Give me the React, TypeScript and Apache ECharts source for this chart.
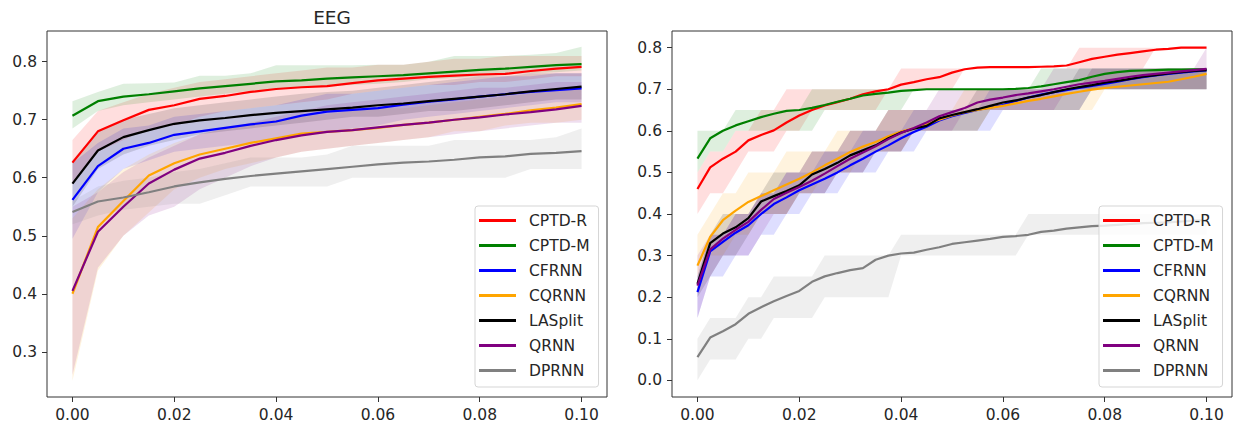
import React, { useEffect, useRef } from "react";
import * as echarts from "echarts";

// ---------- legend / series names ----------
const NAMES = ["CPTD-R", "CPTD-M", "CFRNN", "CQRNN", "LASplit", "QRNN", "DPRNN"];
const COLORS = ["#ff0000", "#008000", "#0000ff", "#ffa500", "#000000", "#800080", "#808080"];

// ---------- tick labels ----------
const X_TICKS = [0, 0.02, 0.04, 0.06, 0.08, 0.1];
const Y_TICKS_L = [0.3, 0.4, 0.5, 0.6, 0.7, 0.8];
const Y_TICKS_R = [0, 0.1, 0.2, 0.3, 0.4, 0.5, 0.6, 0.7, 0.8];

// ---------- left panel (EEG) ----------
const LX = [0, 0.005, 0.01, 0.015, 0.02, 0.025, 0.03, 0.035, 0.04, 0.045, 0.05, 0.055, 0.06, 0.065, 0.07, 0.075, 0.08, 0.085, 0.09, 0.095, 0.1];

const L_CPTDR = [0.626, 0.68, 0.699, 0.717, 0.725, 0.736, 0.741, 0.748, 0.753, 0.756, 0.758, 0.763, 0.768, 0.771, 0.774, 0.776, 0.778, 0.779, 0.784, 0.788, 0.791];
const L_CPTDR_LO = [0.59, 0.645, 0.665, 0.685, 0.69, 0.705, 0.715, 0.72, 0.725, 0.73, 0.735, 0.745, 0.75, 0.755, 0.76, 0.76, 0.765, 0.765, 0.77, 0.775, 0.775];
const L_CPTDR_HI = [0.665, 0.715, 0.73, 0.745, 0.755, 0.765, 0.77, 0.775, 0.78, 0.785, 0.79, 0.79, 0.795, 0.795, 0.8, 0.805, 0.805, 0.81, 0.81, 0.81, 0.81];

const L_CPTDM = [0.707, 0.732, 0.74, 0.744, 0.749, 0.754, 0.758, 0.762, 0.766, 0.768, 0.771, 0.773, 0.775, 0.777, 0.78, 0.783, 0.786, 0.788, 0.791, 0.794, 0.796];
const L_CPTDM_LO = [0.685, 0.715, 0.725, 0.73, 0.735, 0.74, 0.745, 0.75, 0.752, 0.755, 0.758, 0.76, 0.762, 0.765, 0.77, 0.772, 0.775, 0.778, 0.78, 0.782, 0.785];
const L_CPTDM_HI = [0.732, 0.748, 0.762, 0.763, 0.764, 0.776, 0.776, 0.78, 0.794, 0.794, 0.794, 0.794, 0.795, 0.795, 0.8, 0.81, 0.81, 0.81, 0.812, 0.815, 0.826];

const L_CFRNN = [0.562, 0.62, 0.65, 0.66, 0.674, 0.68, 0.686, 0.692, 0.697, 0.707, 0.714, 0.717, 0.72, 0.726, 0.731, 0.735, 0.74, 0.744, 0.748, 0.751, 0.754];
const L_CFRNN_LO = [0.495, 0.575, 0.615, 0.63, 0.645, 0.65, 0.655, 0.66, 0.665, 0.675, 0.68, 0.685, 0.69, 0.7, 0.705, 0.71, 0.715, 0.72, 0.725, 0.73, 0.73];
const L_CFRNN_HI = [0.625, 0.66, 0.685, 0.69, 0.705, 0.71, 0.715, 0.72, 0.725, 0.735, 0.745, 0.745, 0.75, 0.755, 0.76, 0.765, 0.77, 0.775, 0.775, 0.78, 0.78];

const L_CQRNN = [0.4, 0.515, 0.56, 0.604, 0.625, 0.64, 0.65, 0.66, 0.668, 0.676, 0.679, 0.682, 0.686, 0.691, 0.695, 0.7, 0.705, 0.71, 0.716, 0.721, 0.727];
const L_CQRNN_LO = [0.25, 0.44, 0.5, 0.54, 0.58, 0.6, 0.615, 0.625, 0.635, 0.645, 0.65, 0.655, 0.66, 0.665, 0.67, 0.68, 0.68, 0.69, 0.695, 0.695, 0.7];
const L_CQRNN_HI = [0.53, 0.58, 0.615, 0.64, 0.66, 0.675, 0.685, 0.695, 0.7, 0.705, 0.71, 0.715, 0.72, 0.72, 0.725, 0.73, 0.735, 0.74, 0.745, 0.75, 0.755];

const L_LASPLIT = [0.59, 0.647, 0.67, 0.682, 0.693, 0.699, 0.703, 0.708, 0.712, 0.715, 0.718, 0.721, 0.725, 0.728, 0.732, 0.736, 0.74, 0.744, 0.749, 0.753, 0.757];
const L_LASPLIT_LO = [0.55, 0.615, 0.64, 0.655, 0.665, 0.675, 0.68, 0.685, 0.69, 0.695, 0.7, 0.705, 0.705, 0.71, 0.715, 0.715, 0.72, 0.725, 0.73, 0.735, 0.735];
const L_LASPLIT_HI = [0.63, 0.68, 0.7, 0.71, 0.72, 0.725, 0.73, 0.735, 0.74, 0.745, 0.748, 0.75, 0.755, 0.76, 0.765, 0.77, 0.775, 0.775, 0.78, 0.78, 0.78];

const L_QRNN = [0.405, 0.507, 0.55, 0.59, 0.614, 0.633, 0.643, 0.655, 0.665, 0.673, 0.679, 0.682, 0.687, 0.691, 0.695, 0.7, 0.704, 0.709, 0.713, 0.718, 0.724];
const L_QRNN_LO = [0.26, 0.445, 0.5, 0.535, 0.55, 0.58, 0.6, 0.62, 0.635, 0.645, 0.65, 0.655, 0.66, 0.665, 0.67, 0.675, 0.68, 0.685, 0.69, 0.695, 0.695];
const L_QRNN_HI = [0.55, 0.575, 0.61, 0.635, 0.655, 0.675, 0.685, 0.695, 0.705, 0.715, 0.725, 0.73, 0.735, 0.74, 0.745, 0.75, 0.755, 0.755, 0.76, 0.765, 0.765];

const L_DPRNN = [0.541, 0.559, 0.566, 0.575, 0.585, 0.592, 0.598, 0.603, 0.607, 0.611, 0.615, 0.619, 0.623, 0.626, 0.628, 0.631, 0.635, 0.637, 0.641, 0.643, 0.646];
const L_DPRNN_LO = [0.52, 0.535, 0.545, 0.55, 0.555, 0.555, 0.57, 0.585, 0.585, 0.585, 0.585, 0.6, 0.6, 0.6, 0.6, 0.6, 0.6, 0.6, 0.615, 0.615, 0.615];
const L_DPRNN_HI = [0.56, 0.585, 0.595, 0.6, 0.61, 0.615, 0.625, 0.635, 0.635, 0.635, 0.64, 0.655, 0.655, 0.655, 0.655, 0.665, 0.665, 0.665, 0.665, 0.67, 0.685];

// ---------- right panel ----------
const RX = [0, 0.0025, 0.005, 0.0075, 0.01, 0.0125, 0.015, 0.0175, 0.02, 0.0225, 0.025, 0.0275, 0.03, 0.0325, 0.035, 0.0375, 0.04, 0.0425, 0.045, 0.0475, 0.05, 0.0525, 0.055, 0.0575, 0.06, 0.0625, 0.065, 0.0675, 0.07, 0.0725, 0.075, 0.0775, 0.08, 0.0825, 0.085, 0.0875, 0.09, 0.0925, 0.095, 0.0975, 0.1];

const R_CPTDR = [0.46, 0.512, 0.533, 0.55, 0.577, 0.59, 0.601, 0.62, 0.637, 0.65, 0.661, 0.669, 0.677, 0.688, 0.695, 0.7, 0.711, 0.717, 0.724, 0.729, 0.74, 0.748, 0.752, 0.753, 0.753, 0.753, 0.753, 0.754, 0.755, 0.757, 0.765, 0.773, 0.778, 0.783, 0.787, 0.791, 0.795, 0.797, 0.8, 0.8, 0.8];
const R_CPTDR_LO = [0.4, 0.45, 0.45, 0.5, 0.55, 0.55, 0.55, 0.6, 0.6, 0.65, 0.65, 0.65, 0.65, 0.65, 0.65, 0.7, 0.7, 0.7, 0.7, 0.7, 0.7, 0.75, 0.75, 0.75, 0.75, 0.75, 0.75, 0.75, 0.75, 0.75, 0.75, 0.75, 0.75, 0.75, 0.75, 0.75, 0.8, 0.8, 0.8, 0.8, 0.8];
const R_CPTDR_HI = [0.5, 0.55, 0.55, 0.6, 0.6, 0.65, 0.65, 0.7, 0.7, 0.7, 0.7, 0.7, 0.7, 0.7, 0.7, 0.7, 0.75, 0.75, 0.75, 0.75, 0.75, 0.75, 0.75, 0.75, 0.75, 0.75, 0.75, 0.75, 0.75, 0.75, 0.8, 0.8, 0.8, 0.8, 0.8, 0.8, 0.8, 0.8, 0.8, 0.8, 0.8];

const R_CPTDM = [0.533, 0.582, 0.6, 0.613, 0.623, 0.633, 0.641, 0.648, 0.65, 0.655, 0.662, 0.67, 0.677, 0.685, 0.689, 0.692, 0.696, 0.698, 0.7, 0.7, 0.7, 0.7, 0.7, 0.7, 0.7, 0.701, 0.703, 0.707, 0.712, 0.717, 0.722, 0.73, 0.737, 0.741, 0.744, 0.745, 0.746, 0.747, 0.747, 0.748, 0.748];
const R_CPTDM_LO = [0.5, 0.55, 0.55, 0.6, 0.6, 0.6, 0.6, 0.6, 0.6, 0.6, 0.65, 0.65, 0.65, 0.65, 0.65, 0.65, 0.65, 0.7, 0.7, 0.7, 0.7, 0.7, 0.7, 0.7, 0.7, 0.7, 0.7, 0.7, 0.7, 0.7, 0.7, 0.7, 0.7, 0.7, 0.7, 0.7, 0.7, 0.7, 0.7, 0.7, 0.7];
const R_CPTDM_HI = [0.6, 0.6, 0.6, 0.65, 0.65, 0.65, 0.65, 0.65, 0.65, 0.7, 0.7, 0.7, 0.7, 0.7, 0.7, 0.7, 0.7, 0.7, 0.7, 0.7, 0.7, 0.7, 0.7, 0.7, 0.7, 0.7, 0.7, 0.75, 0.75, 0.75, 0.75, 0.75, 0.75, 0.75, 0.75, 0.75, 0.75, 0.75, 0.75, 0.75, 0.75];

const R_CFRNN = [0.212, 0.31, 0.333, 0.355, 0.373, 0.4, 0.424, 0.44, 0.457, 0.471, 0.485, 0.5, 0.517, 0.533, 0.55, 0.565, 0.582, 0.597, 0.61, 0.625, 0.635, 0.643, 0.65, 0.656, 0.662, 0.672, 0.68, 0.687, 0.693, 0.698, 0.703, 0.708, 0.713, 0.718, 0.724, 0.729, 0.733, 0.737, 0.74, 0.743, 0.745];
const R_CFRNN_LO = [0.15, 0.25, 0.25, 0.3, 0.3, 0.35, 0.35, 0.4, 0.4, 0.45, 0.45, 0.45, 0.5, 0.5, 0.5, 0.55, 0.55, 0.55, 0.6, 0.6, 0.6, 0.6, 0.6, 0.6, 0.65, 0.65, 0.65, 0.65, 0.65, 0.65, 0.65, 0.7, 0.7, 0.7, 0.7, 0.7, 0.7, 0.7, 0.7, 0.7, 0.7];
const R_CFRNN_HI = [0.25, 0.35, 0.35, 0.4, 0.4, 0.45, 0.45, 0.5, 0.5, 0.5, 0.55, 0.55, 0.55, 0.6, 0.6, 0.6, 0.6, 0.65, 0.65, 0.65, 0.65, 0.65, 0.65, 0.7, 0.7, 0.7, 0.7, 0.7, 0.7, 0.7, 0.7, 0.75, 0.75, 0.75, 0.75, 0.75, 0.75, 0.75, 0.75, 0.75, 0.75];

const R_CQRNN = [0.276, 0.345, 0.385, 0.408, 0.429, 0.443, 0.457, 0.471, 0.485, 0.5, 0.517, 0.533, 0.549, 0.562, 0.573, 0.587, 0.598, 0.606, 0.615, 0.627, 0.637, 0.645, 0.65, 0.655, 0.66, 0.666, 0.672, 0.677, 0.683, 0.689, 0.694, 0.699, 0.703, 0.706, 0.709, 0.712, 0.715, 0.718, 0.724, 0.73, 0.737];
const R_CQRNN_LO = [0.25, 0.3, 0.3, 0.35, 0.35, 0.4, 0.4, 0.4, 0.45, 0.45, 0.5, 0.5, 0.5, 0.55, 0.55, 0.55, 0.55, 0.6, 0.6, 0.6, 0.6, 0.6, 0.6, 0.65, 0.65, 0.65, 0.65, 0.65, 0.65, 0.65, 0.65, 0.65, 0.7, 0.7, 0.7, 0.7, 0.7, 0.7, 0.7, 0.7, 0.7];
const R_CQRNN_HI = [0.35, 0.4, 0.45, 0.45, 0.5, 0.5, 0.5, 0.55, 0.55, 0.55, 0.55, 0.6, 0.6, 0.6, 0.6, 0.65, 0.65, 0.65, 0.65, 0.65, 0.65, 0.7, 0.7, 0.7, 0.7, 0.7, 0.7, 0.7, 0.7, 0.7, 0.7, 0.75, 0.75, 0.75, 0.75, 0.75, 0.75, 0.75, 0.75, 0.75, 0.75];

const R_LASPLIT = [0.232, 0.33, 0.353, 0.368, 0.39, 0.43, 0.443, 0.455, 0.469, 0.495, 0.508, 0.523, 0.541, 0.553, 0.565, 0.582, 0.596, 0.605, 0.612, 0.63, 0.638, 0.645, 0.652, 0.66, 0.668, 0.673, 0.68, 0.686, 0.693, 0.7, 0.705, 0.71, 0.716, 0.72, 0.725, 0.73, 0.734, 0.738, 0.741, 0.744, 0.746];
const R_LASPLIT_LO = [0.2, 0.25, 0.3, 0.3, 0.35, 0.4, 0.4, 0.4, 0.45, 0.45, 0.45, 0.5, 0.5, 0.5, 0.55, 0.55, 0.55, 0.6, 0.6, 0.6, 0.6, 0.6, 0.6, 0.65, 0.65, 0.65, 0.65, 0.65, 0.65, 0.65, 0.65, 0.7, 0.7, 0.7, 0.7, 0.7, 0.7, 0.7, 0.7, 0.7, 0.7];
const R_LASPLIT_HI = [0.25, 0.35, 0.4, 0.4, 0.4, 0.45, 0.5, 0.5, 0.5, 0.55, 0.55, 0.55, 0.6, 0.6, 0.6, 0.65, 0.65, 0.65, 0.65, 0.65, 0.65, 0.65, 0.7, 0.7, 0.7, 0.7, 0.7, 0.7, 0.7, 0.7, 0.75, 0.75, 0.75, 0.75, 0.75, 0.75, 0.75, 0.75, 0.75, 0.75, 0.75];

const R_QRNN = [0.228, 0.315, 0.341, 0.362, 0.381, 0.41, 0.436, 0.451, 0.465, 0.48, 0.497, 0.515, 0.533, 0.548, 0.563, 0.58, 0.595, 0.607, 0.62, 0.635, 0.645, 0.655, 0.668, 0.675, 0.68, 0.686, 0.69, 0.695, 0.7, 0.706, 0.712, 0.716, 0.72, 0.725, 0.73, 0.734, 0.737, 0.74, 0.743, 0.746, 0.749];
const R_QRNN_LO = [0.15, 0.25, 0.3, 0.3, 0.3, 0.35, 0.4, 0.4, 0.45, 0.45, 0.45, 0.5, 0.5, 0.5, 0.55, 0.55, 0.55, 0.6, 0.6, 0.6, 0.6, 0.65, 0.65, 0.65, 0.65, 0.65, 0.65, 0.65, 0.65, 0.7, 0.7, 0.7, 0.7, 0.7, 0.7, 0.7, 0.7, 0.7, 0.7, 0.7, 0.7];
const R_QRNN_HI = [0.3, 0.35, 0.35, 0.4, 0.4, 0.45, 0.45, 0.5, 0.5, 0.55, 0.55, 0.55, 0.6, 0.6, 0.6, 0.65, 0.65, 0.65, 0.65, 0.7, 0.7, 0.7, 0.7, 0.7, 0.7, 0.7, 0.7, 0.7, 0.75, 0.75, 0.75, 0.75, 0.75, 0.75, 0.75, 0.75, 0.75, 0.75, 0.75, 0.75, 0.8];

const R_DPRNN = [0.056, 0.103, 0.118, 0.135, 0.16, 0.176, 0.19, 0.203, 0.215, 0.237, 0.25, 0.258, 0.265, 0.27, 0.29, 0.3, 0.305, 0.307, 0.314, 0.32, 0.328, 0.332, 0.336, 0.34, 0.345, 0.347, 0.35, 0.357, 0.36, 0.365, 0.368, 0.371, 0.372, 0.374, 0.376, 0.378, 0.379, 0.38, 0.382, 0.384, 0.385];
const R_DPRNN_LO = [0, 0.05, 0.05, 0.05, 0.1, 0.1, 0.15, 0.15, 0.15, 0.15, 0.2, 0.2, 0.2, 0.2, 0.2, 0.2, 0.3, 0.3, 0.3, 0.3, 0.3, 0.3, 0.3, 0.3, 0.3, 0.3, 0.35, 0.35, 0.35, 0.35, 0.35, 0.35, 0.35, 0.35, 0.35, 0.35, 0.35, 0.35, 0.35, 0.35, 0.35];
const R_DPRNN_HI = [0.1, 0.15, 0.15, 0.15, 0.2, 0.2, 0.25, 0.25, 0.25, 0.25, 0.3, 0.3, 0.3, 0.3, 0.3, 0.3, 0.35, 0.35, 0.35, 0.35, 0.35, 0.35, 0.35, 0.35, 0.35, 0.35, 0.4, 0.4, 0.4, 0.4, 0.4, 0.4, 0.4, 0.4, 0.4, 0.4, 0.4, 0.4, 0.4, 0.4, 0.4];

const LEFT = [
  [L_CPTDR, L_CPTDR_LO, L_CPTDR_HI],
  [L_CPTDM, L_CPTDM_LO, L_CPTDM_HI],
  [L_CFRNN, L_CFRNN_LO, L_CFRNN_HI],
  [L_CQRNN, L_CQRNN_LO, L_CQRNN_HI],
  [L_LASPLIT, L_LASPLIT_LO, L_LASPLIT_HI],
  [L_QRNN, L_QRNN_LO, L_QRNN_HI],
  [L_DPRNN, L_DPRNN_LO, L_DPRNN_HI],
];
const RIGHT = [
  [R_CPTDR, R_CPTDR_LO, R_CPTDR_HI],
  [R_CPTDM, R_CPTDM_LO, R_CPTDM_HI],
  [R_CFRNN, R_CFRNN_LO, R_CFRNN_HI],
  [R_CQRNN, R_CQRNN_LO, R_CQRNN_HI],
  [R_LASPLIT, R_LASPLIT_LO, R_LASPLIT_HI],
  [R_QRNN, R_QRNN_LO, R_QRNN_HI],
  [R_DPRNN, R_DPRNN_LO, R_DPRNN_HI],
];

const FONT = "DejaVu Sans";
const TEXT = "#262626";

function band(idx: number, xs: number[], lo: number[], hi: number[], color: string, z: number) {
  return {
    type: "custom",
    xAxisIndex: idx,
    yAxisIndex: idx,
    silent: true,
    z,
    data: [[xs[0], lo[0]]],
    renderItem: (_p: any, api: any) => {
      const pts: number[][] = [];
      for (let i = 0; i < xs.length; i++) pts.push(api.coord([xs[i], hi[i]]));
      for (let i = xs.length - 1; i >= 0; i--) pts.push(api.coord([xs[i], lo[i]]));
      return { type: "polygon", shape: { points: pts }, style: { fill: color, opacity: 0.13, stroke: null } };
    },
  };
}

function line(idx: number, name: string, xs: number[], ys: number[], color: string, z: number) {
  return {
    type: "line",
    name,
    xAxisIndex: idx,
    yAxisIndex: idx,
    data: xs.map((x, i) => [x, ys[i]]),
    symbol: "none",
    showSymbol: false,
    lineStyle: { color, width: 2.2 },
    itemStyle: { color },
    z,
    silent: true,
  };
}

function legend(left: number) {
  return {
    left,
    top: 206,
    orient: "vertical",
    data: NAMES,
    icon: "rect",
    itemWidth: 37,
    itemHeight: 3,
    itemGap: 0,
    padding: [2, 9, 4, 4],
    backgroundColor: "rgba(255,255,255,0.8)",
    borderColor: "#d5d5d5",
    borderWidth: 1,
    borderRadius: 3,
    selectedMode: false,
    textStyle: { fontSize: 15.5, fontFamily: FONT, color: TEXT, lineHeight: 25, padding: [0, 0, 0, 8] },
  };
}

function xAxis(idx: number) {
  return {
    gridIndex: idx,
    type: "value",
    min: -0.005,
    max: 0.105,
    splitLine: { show: false },
    axisLine: { show: false, onZero: false },
    axisTick: { show: true, length: 5, lineStyle: { color: "#333" }, customValues: X_TICKS },
    axisLabel: {
      customValues: X_TICKS,
      formatter: (v: number) => v.toFixed(2),
      fontSize: 15.5,
      fontFamily: FONT,
      color: TEXT,
      margin: 10,
    },
  };
}

function yAxis(idx: number, min: number, max: number, ticks: number[]) {
  return {
    gridIndex: idx,
    type: "value",
    min,
    max,
    splitLine: { show: false },
    axisLine: { show: false, onZero: false },
    axisTick: { show: true, length: 5, lineStyle: { color: "#333" }, customValues: ticks },
    axisLabel: {
      customValues: ticks,
      formatter: (v: number) => v.toFixed(1),
      fontSize: 15.5,
      fontFamily: FONT,
      color: TEXT,
      margin: 10,
    },
  };
}

export default function App() {
  const ref = useRef<HTMLDivElement>(null);
  useEffect(() => {
    if (!ref.current) return;
    const chart = echarts.init(ref.current, undefined, { renderer: "svg" });
    const series: any[] = [];
    LEFT.forEach(([m, lo, hi], i) => {
      series.push(band(0, LX, lo, hi, COLORS[i], 1));
    });
    RIGHT.forEach(([m, lo, hi], i) => {
      series.push(band(1, RX, lo, hi, COLORS[i], 1));
    });
    LEFT.forEach(([m], i) => series.push(line(0, NAMES[i], LX, m, COLORS[i], 3 + i * 0.01)));
    RIGHT.forEach(([m], i) => series.push(line(1, NAMES[i], RX, m, COLORS[i], 3 + i * 0.01)));

    chart.setOption({
      animation: false,
      backgroundColor: "#ffffff",
      title: {
        text: "EEG",
        left: 327,
        top: 3,
        textAlign: "center",
        textStyle: { fontSize: 18.5, fontWeight: "normal", fontFamily: FONT, color: TEXT },
      },
      grid: [
        { left: 47, top: 31, width: 560, height: 366, show: true, borderColor: "#333", borderWidth: 1, backgroundColor: "transparent" },
        { left: 672, top: 31, width: 560, height: 366, show: true, borderColor: "#333", borderWidth: 1, backgroundColor: "transparent" },
      ],
      xAxis: [xAxis(0), xAxis(1)],
      yAxis: [yAxis(0, 0.222, 0.853, Y_TICKS_L), yAxis(1, -0.04, 0.84, Y_TICKS_R)],
      legend: [legend(475), legend(1099)],
      series,
    });
    return () => chart.dispose();
  }, []);
  return (
    <div
      ref={ref}
      style={{ position: "absolute", left: 0, top: 0, width: 1233, height: 430 }}
    />
  );
}
